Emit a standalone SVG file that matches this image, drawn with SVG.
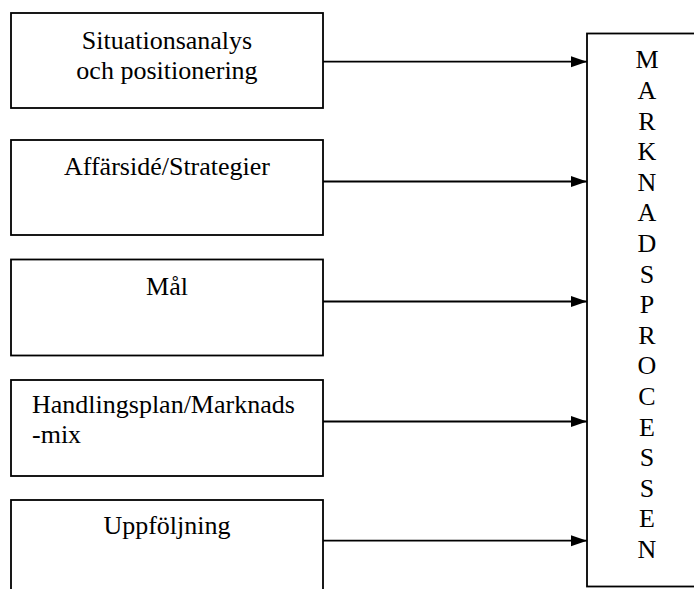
<svg xmlns="http://www.w3.org/2000/svg" width="694" height="589" viewBox="0 0 694 589">
<style>
.box{fill:#fff;stroke:#000;stroke-width:1.8}
text{font-family:'Liberation Serif','Times New Roman',Times,serif;font-size:26px;fill:#000}
.c{text-anchor:middle}
.conn{stroke:#000;stroke-width:1.8;fill:none}
</style>
<defs>
<marker id="ah" markerUnits="userSpaceOnUse" markerWidth="17" markerHeight="12" refX="16" refY="6" orient="auto">
<path d="M0,0.5 L16,6 L0,11.5 Z" fill="#000"/>
</marker>
</defs>
<rect width="694" height="589" fill="#fff"/>
<g font-family="Liberation Serif, Times New Roman, serif" font-size="26">
<g id="n1"><rect class="box" x="11" y="13" width="312" height="95"/>
<text class="c" x="167" y="49">Situationsanalys</text>
<text class="c" x="167" y="78.5">och positionering</text></g>
<g id="n2"><rect class="box" x="11" y="140" width="312" height="95"/>
<text class="c" x="167" y="175">Affärsidé/Strategier</text></g>
<g id="n3"><rect class="box" x="11" y="259.5" width="312" height="96"/>
<text class="c" x="167" y="295">Mål</text></g>
<g id="n4"><rect class="box" x="11" y="380" width="312" height="96"/>
<text x="32" y="413.3">Handlingsplan/Marknads</text>
<text x="32" y="443.3">-mix</text></g>
<g id="n5"><rect class="box" x="11" y="500" width="312" height="120"/>
<text class="c" x="167" y="534.3">Uppföljning</text></g>
<g id="n6"><rect class="box" x="587" y="33.5" width="140" height="553"/>
<text class="c" x="647" y="68.3">M</text>
<text class="c" x="647" y="98.9">A</text>
<text class="c" x="647" y="129.5">R</text>
<text class="c" x="647" y="160.1">K</text>
<text class="c" x="647" y="190.7">N</text>
<text class="c" x="647" y="221.3">A</text>
<text class="c" x="647" y="251.9">D</text>
<text class="c" x="647" y="282.5">S</text>
<text class="c" x="647" y="313.1">P</text>
<text class="c" x="647" y="343.7">R</text>
<text class="c" x="647" y="374.3">O</text>
<text class="c" x="647" y="404.9">C</text>
<text class="c" x="647" y="435.5">E</text>
<text class="c" x="647" y="466.1">S</text>
<text class="c" x="647" y="496.7">S</text>
<text class="c" x="647" y="527.3">E</text>
<text class="c" x="647" y="557.9">N</text></g>
</g>
<g id="connectors">
<line class="conn" x1="323" y1="61.7" x2="587" y2="61.7" marker-end="url(#ah)"/>
<line class="conn" x1="323" y1="181.5" x2="587" y2="181.5" marker-end="url(#ah)"/>
<line class="conn" x1="323" y1="301.5" x2="587" y2="301.5" marker-end="url(#ah)"/>
<line class="conn" x1="323" y1="421.5" x2="587" y2="421.5" marker-end="url(#ah)"/>
<line class="conn" x1="323" y1="540.7" x2="587" y2="540.7" marker-end="url(#ah)"/>
</g>
</svg>
